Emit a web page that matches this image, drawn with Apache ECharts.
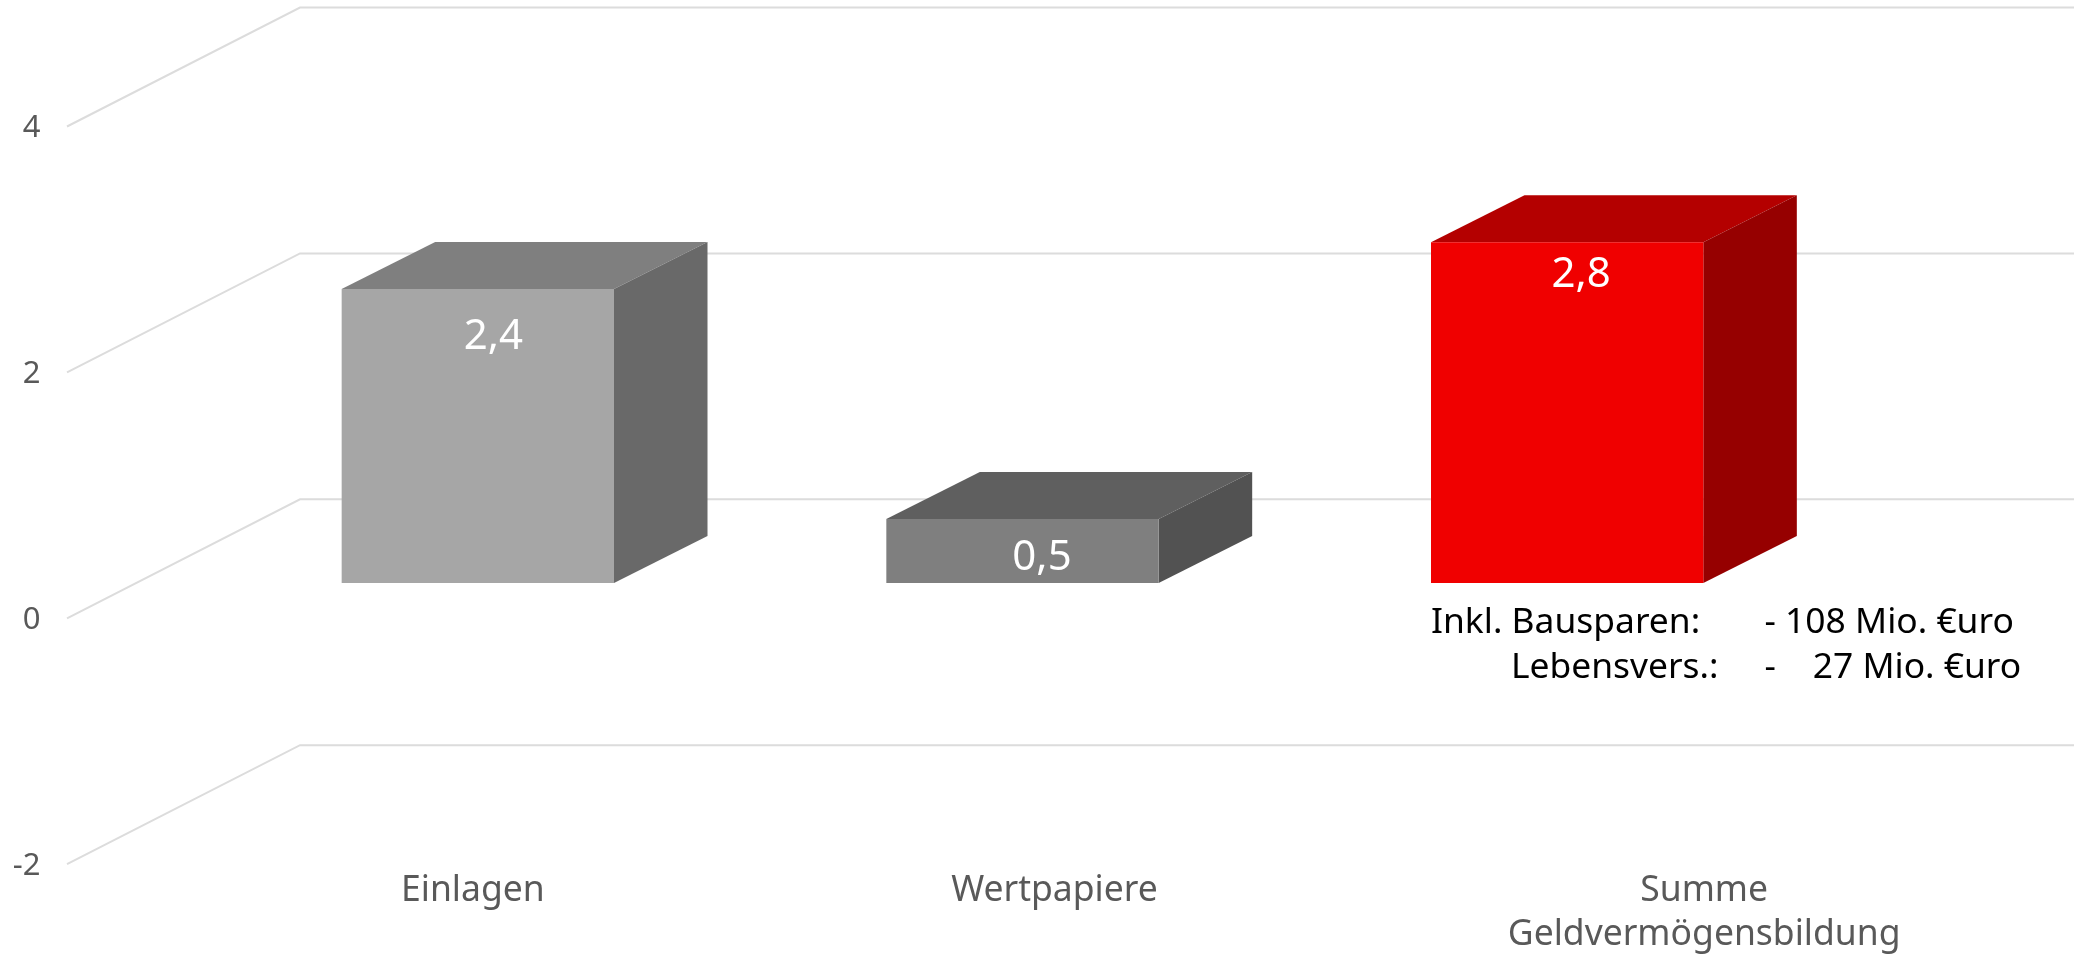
<!DOCTYPE html>
<html>
<head>
<meta charset="utf-8">
<style>html,body{margin:0;padding:0;background:#fff}#c{width:2074px;height:956px}</style>
<script src="https://cdn.jsdelivr.net/npm/echarts@6/dist/echarts.min.js"></script>
</head>
<body>
<div id="c"></div>
<script>
const categories = ['Einlagen', 'Wertpapiere', 'Summe\nGeldvermögensbildung'];
const values = [2.39, 0.52, 2.77];
const yTicks = [-2, 0, 2, 4];
const noteLines = ['Inkl. Bausparen:       - 108 Mio. €uro', 'Lebensvers.:     -    27 Mio. €uro'];

const FONT = '"Noto Sans", sans-serif';
const faceColors = ['#a6a6a6', '#7f7f7f', '#f00000'];
const topColors = ['#7f7f7f', '#5f5f5f', '#b40000'];
const sideColors = ['#696969', '#525252', '#960000'];
const labelShiftX = [15.5, 19.5, 14];
const labelDropY = [47.5, 39.5, 32.5];
const catLabelShift = [-5, 32, 137];
const DEPTH_X = 93.5, DEPTH_Y = 47, BAR_LIFT = 35.4, WALL_X = 300, WALL_Y = 119, FRONT_X = 67;

const chart = echarts.init(document.getElementById('c'), null, {renderer: 'canvas'});

function gridLine(params, api) {
  const y = api.coord([0, api.value(1)])[1];
  return {
    type: 'polyline',
    silent: true,
    shape: {points: [[FRONT_X, y], [WALL_X, y - WALL_Y], [api.getWidth(), y - WALL_Y]]},
    style: {stroke: '#dcdcdc', lineWidth: 2, fill: null}
  };
}

function bar3d(params, api) {
  const i = api.value(0), v = api.value(1);
  const cx = api.coord([i, 0])[0];
  const w = api.size([1, 0])[0] * 0.5;
  const yTop = api.coord([i, v])[1] - BAR_LIFT;
  const yBase = api.coord([i, 0])[1] - BAR_LIFT;
  const l = cx - w / 2, r = cx + w / 2;
  return {
    type: 'group',
    children: [
      {type: 'polygon', shape: {points: [[l, yTop], [l + DEPTH_X, yTop - DEPTH_Y], [r + DEPTH_X, yTop - DEPTH_Y], [r, yTop]]}, style: {fill: topColors[i]}},
      {type: 'polygon', shape: {points: [[r, yTop], [r + DEPTH_X, yTop - DEPTH_Y], [r + DEPTH_X, yBase - DEPTH_Y], [r, yBase]]}, style: {fill: sideColors[i]}},
      {type: 'rect', shape: {x: l, y: yTop, width: w, height: yBase - yTop}, style: {fill: faceColors[i]}},
      {type: 'text', x: cx + labelShiftX[i], y: yTop + labelDropY[i],
        style: {text: v.toFixed(1).replace('.', ','), fill: '#fff', font: '42px ' + FONT, align: 'center', verticalAlign: 'middle'}}
    ]
  };
}

const catRich = {};
catLabelShift.forEach((s, i) => {
  catRich['c' + i] = {
    fontFamily: FONT, fontSize: 35.5, color: '#595959', lineHeight: 44,
    padding: s >= 0 ? [0, 0, 0, 2 * s] : [0, -2 * s, 0, 0]
  };
});

chart.setOption({
  backgroundColor: '#fff',
  animation: false,
  grid: {left: 205.5, top: 126.5, width: 1634, height: 737.7, containLabel: false},
  xAxis: {
    type: 'category', data: categories,
    axisLine: {show: false}, axisTick: {show: false}, splitLine: {show: false},
    axisLabel: {
      margin: 5, interval: 0,
      formatter: (val, idx) => val.split('\n').map(t => '{c' + idx + '|' + t + '}').join('\n'),
      rich: catRich
    }
  },
  yAxis: {
    type: 'value', min: -2, max: 4, interval: 2, offset: 165,
    axisLine: {show: false}, axisTick: {show: false}, splitLine: {show: false},
    axisLabel: {margin: 0, fontFamily: FONT, fontSize: 31, lineHeight: 31, color: '#595959', verticalAlign: 'top', padding: [-14, 0, 0, 0], customValues: yTicks}
  },
  series: [
    {type: 'custom', silent: true, z: 1, renderItem: gridLine, data: yTicks.map(v => [0, v]), clip: false},
    {type: 'custom', silent: true, z: 2, renderItem: bar3d, data: values.map((v, i) => [i, v]), clip: false}
  ],
  graphic: [
    {type: 'text', silent: true, left: 1431, top: 605, style: {text: noteLines[0], fill: '#000', font: '35.4px ' + FONT}},
    {type: 'text', silent: true, left: 1511, top: 650, style: {text: noteLines[1], fill: '#000', font: '35.4px ' + FONT}}
  ]
});
</script>
</body>
</html>
